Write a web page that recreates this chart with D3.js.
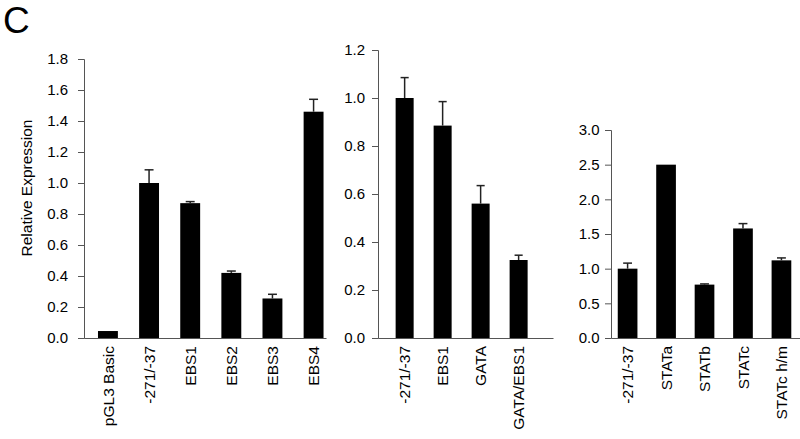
<!DOCTYPE html>
<html>
<head>
<meta charset="utf-8">
<script src="https://cdn.jsdelivr.net/npm/d3@7"></script>
<style>
  body { margin: 0; background: #fff; }
  text { font-family: "Liberation Sans", Arial, sans-serif; fill: #000; }
</style>
</head>
<body>
<div id="chart"></div>
<script>
'use strict';

// panel A: EBS mutants
const catsA = ["pGL3 Basic", "-271/-37", "EBS1", "EBS2", "EBS3", "EBS4"];
const valsA = [0.045, 1.0, 0.87, 0.42, 0.255, 1.46];
const errA  = [0, 0.085, 0.01, 0.012, 0.027, 0.08];
const ticksA = [0, 0.2, 0.4, 0.6, 0.8, 1.0, 1.2, 1.4, 1.6, 1.8];

// panel B: GATA mutants
const catsB = ["-271/-37", "EBS1", "GATA", "GATA/EBS1"];
const valsB = [1.0, 0.885, 0.56, 0.325];
const errB  = [0.085, 0.1, 0.075, 0.02];
const ticksB = [0, 0.2, 0.4, 0.6, 0.8, 1.0, 1.2];

// panel C: STAT mutants
const catsC = ["-271/-37", "STATa", "STATb", "STATc", "STATc h/m"];
const valsC = [1.0, 2.5, 0.77, 1.58, 1.12];
const errC  = [0.08, 0, 0.01, 0.07, 0.035];
const ticksC = [0, 0.5, 1.0, 1.5, 2.0, 2.5, 3.0];

const W = 800, H = 439;
const baseY = 338;

const svg = d3.select('#chart')
  .append('svg')
  .attr('width', W)
  .attr('height', H);

svg.append('text')
  .attr('x', 3)
  .attr('y', 33)
  .style('font-size', '37px')
  .text('C');

svg.append('text')
  .attr('transform', 'translate(32,188) rotate(-90)')
  .attr('text-anchor', 'middle')
  .style('font-size', '15.5px')
  .text('Relative Expression');

const panels = [
  { cats: catsA, vals: valsA, err: errA, ticks: ticksA, yMax: 1.8, top: 59,
    x0: 84, x1: 326, pIn: 0.516, pOut: 0.2, align: 0.85, pad: 10 },
  { cats: catsB, vals: valsB, err: errB, ticks: ticksB, yMax: 1.2, top: 50,
    x0: 378, x1: 553, pIn: 0.526, pOut: 0.566, align: 0.41, pad: 7 },
  { cats: catsC, vals: valsC, err: errC, ticks: ticksC, yMax: 3.0, top: 130,
    x0: 611, x1: 801, pIn: 0.488, pOut: 0.214, align: 0.41, pad: 5.5 }
];

panels.forEach(drawPanel);

function drawPanel(p) {
  let g = svg.append('g');

  let xScale = d3.scaleBand()
    .domain(p.cats)
    .range([p.x0, p.x1])
    .paddingInner(p.pIn)
    .paddingOuter(p.pOut)
    .align(p.align);

  let yScale = d3.scaleLinear()
    .domain([0, p.yMax])
    .range([baseY, p.top]);

  // bars
  g.selectAll('.bar')
    .data(p.cats)
    .enter()
    .append('rect')
      .attr('x', (d) => xScale(d))
      .attr('y', (d, i) => yScale(p.vals[i]))
      .attr('width', xScale.bandwidth())
      .attr('height', (d, i) => baseY - yScale(p.vals[i]))
      .attr('fill', '#000');

  // error bars (upper only)
  let withErr = p.cats.filter((d, i) => p.err[i] > 0);
  let idx = (d) => p.cats.indexOf(d);
  let cx = (d) => xScale(d) + xScale.bandwidth() / 2;
  let capW = xScale.bandwidth() * 0.45;

  g.selectAll('.errLine')
    .data(withErr)
    .enter()
    .append('line')
      .attr('x1', cx)
      .attr('x2', cx)
      .attr('y1', (d) => yScale(p.vals[idx(d)]))
      .attr('y2', (d) => yScale(p.vals[idx(d)] + p.err[idx(d)]))
      .attr('stroke', '#222')
      .attr('stroke-width', 1.5);

  g.selectAll('.errCap')
    .data(withErr)
    .enter()
    .append('line')
      .attr('x1', (d) => cx(d) - capW / 2)
      .attr('x2', (d) => cx(d) + capW / 2)
      .attr('y1', (d) => yScale(p.vals[idx(d)] + p.err[idx(d)]))
      .attr('y2', (d) => yScale(p.vals[idx(d)] + p.err[idx(d)]))
      .attr('stroke', '#222')
      .attr('stroke-width', 1.5);

  // y axis
  let yAxis = d3.axisLeft(yScale)
    .tickValues(p.ticks)
    .tickFormat(d3.format('.1f'))
    .tickSizeOuter(0)
    .tickSize(6)
    .tickPadding(p.pad);
  let ya = g.append('g')
    .attr('transform', 'translate(' + p.x0 + ',0)')
    .call(yAxis);
  ya.selectAll('path, line').attr('stroke', '#555');
  ya.selectAll('text')
    .style('font-size', '15px')
    .style('font-family', '"Liberation Sans", Arial, sans-serif')
    .attr('fill', '#000');

  // x axis: plain baseline, rotated labels
  let xAxis = d3.axisBottom(xScale).tickSize(0).tickSizeOuter(0).tickPadding(0);
  let xa = g.append('g')
    .attr('transform', 'translate(0,' + baseY + ')')
    .call(xAxis);
  xa.select('path').attr('stroke', '#555');
  xa.selectAll('text')
    .attr('transform', 'rotate(-90)')
    .attr('text-anchor', 'end')
    .attr('x', -8)
    .attr('y', 0)
    .attr('dy', '0.36em')
    .style('font-size', '15.5px')
    .style('font-family', '"Liberation Sans", Arial, sans-serif')
    .attr('fill', '#000');
}
</script>
</body>
</html>
